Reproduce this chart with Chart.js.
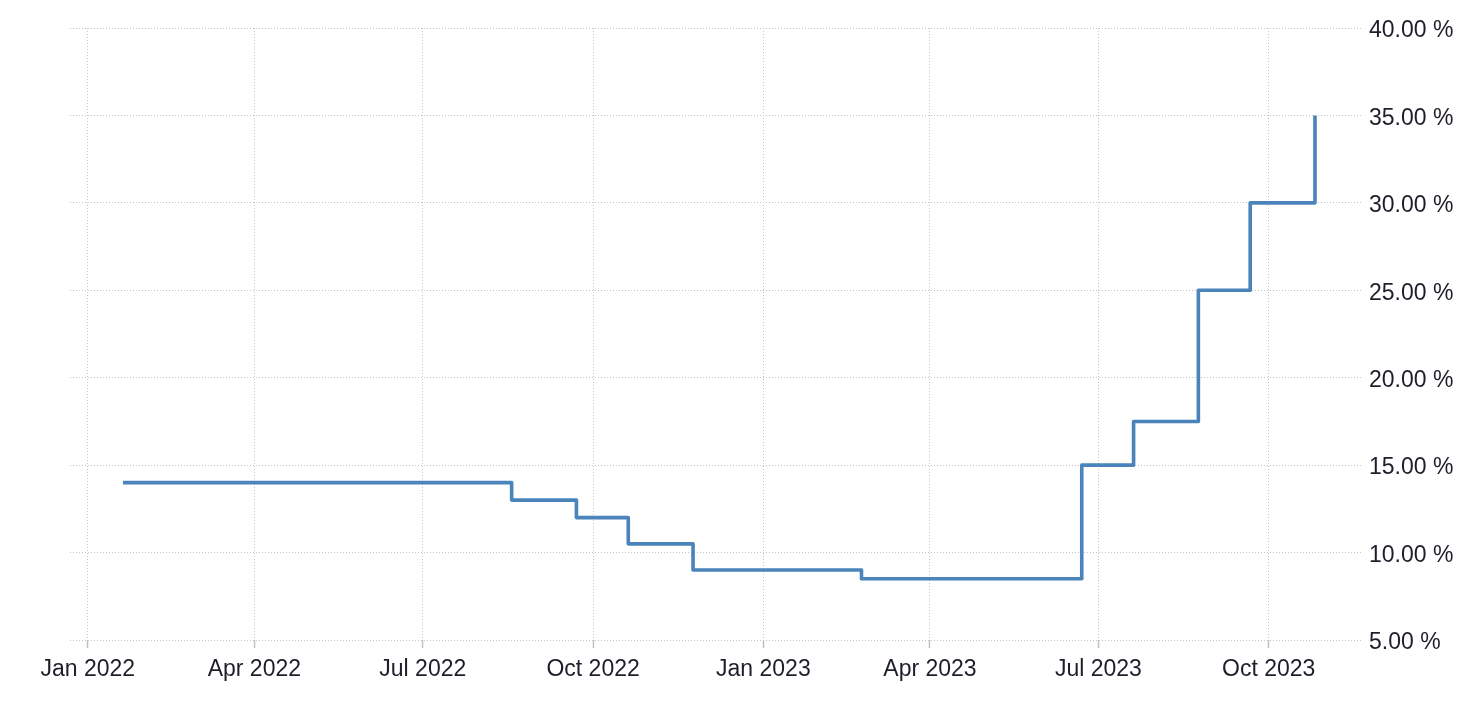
<!DOCTYPE html>
<html>
<head>
<meta charset="utf-8">
<script src="https://cdn.jsdelivr.net/npm/chart.js@4/dist/chart.umd.min.js"></script>
<style>
  html, body { margin: 0; padding: 0; background: #ffffff; }
  #wrap { width: 1481px; height: 705px; position: relative; }
</style>
</head>
<body>
<div id="wrap"><canvas id="c" width="1481" height="705"></canvas></div>
<script>
// Policy-rate decision dates and the rate set on each date (%)
const decisionDates = [
  '2022-01-20','2022-02-17','2022-03-17','2022-04-14','2022-05-26','2022-06-23',
  '2022-07-21','2022-08-18','2022-09-22','2022-10-20','2022-11-24','2022-12-22',
  '2023-01-19','2023-02-23','2023-03-23','2023-04-27','2023-05-25','2023-06-22',
  '2023-07-20','2023-08-24','2023-09-21','2023-10-26'
];
const rateValues = [
  14, 14, 14, 14, 14, 14,
  14, 13, 12, 10.5, 9, 9,
  9, 8.5, 8.5, 8.5, 8.5, 15,
  17.5, 25, 30, 35
];
// X-axis tick dates and their labels
const tickDates  = ['2022-01-01','2022-04-01','2022-07-01','2022-10-01','2023-01-01','2023-04-01','2023-07-01','2023-10-01'];
const tickLabels = ['Jan 2022','Apr 2022','Jul 2022','Oct 2022','Jan 2023','Apr 2023','Jul 2023','Oct 2023'];
// Y-axis range
const yMin = 5, yMax = 40, yStep = 5;

const DAY = 86400000;
const origin = Date.UTC(2022, 0, 1);
const toDay = s => { const p = s.split('-').map(Number); return (Date.UTC(p[0], p[1]-1, p[2]) - origin) / DAY; };

const points = decisionDates.map((d, i) => ({ x: toDay(d), y: rateValues[i] }));
const tickDays = tickDates.map(toDay);

const FONT = "'Liberation Sans', Arial, sans-serif";

new Chart(document.getElementById('c'), {
  type: 'line',
  data: {
    datasets: [{
      data: points,
      stepped: true,
      borderColor: '#4a84ba',
      borderWidth: 3.6,
      pointRadius: 0,
      fill: false,
      borderJoinStyle: 'round',
      borderCapStyle: 'butt'
    }]
  },
  options: {
    responsive: false,
    animation: false,
    devicePixelRatio: 1,
    layout: { padding: { left: 70, top: 28, right: 0, bottom: 0 } },
    plugins: { legend: { display: false }, tooltip: { enabled: false } },
    scales: {
      x: {
        type: 'linear',
        min: -9.6,
        max: 688.4,
        afterBuildTicks: axis => { axis.ticks = tickDays.map(v => ({ value: v })); },
        afterFit: axis => { axis.height = 65; },
        ticks: {
          autoSkip: false,
          maxRotation: 0,
          padding: 8,
          color: '#1e1e2a',
          font: { family: FONT, size: 23 },
          callback: (v) => { const i = tickDays.indexOf(v); return i >= 0 ? tickLabels[i] : ''; }
        },
        grid: {
          color: '#c4c4c4',
          lineWidth: 1,
          drawTicks: true,
          tickLength: 8,
          tickColor: '#c0c0c0',
          tickWidth: 1.5
        },
        border: { display: false, dash: [1, 2] }
      },
      y: {
        position: 'right',
        min: yMin,
        max: yMax,
        afterFit: axis => { axis.width = 119; },
        ticks: {
          stepSize: yStep,
          padding: 7,
          labelOffset: 3,
          color: '#1e1e2a',
          font: { family: FONT, size: 23 },
          callback: v => v.toFixed(2) + ' %'
        },
        grid: {
          color: '#c4c4c4',
          lineWidth: 1,
          drawTicks: false
        },
        border: { display: false, dash: [1, 2] }
      }
    }
  }
});
</script>
</body>
</html>
